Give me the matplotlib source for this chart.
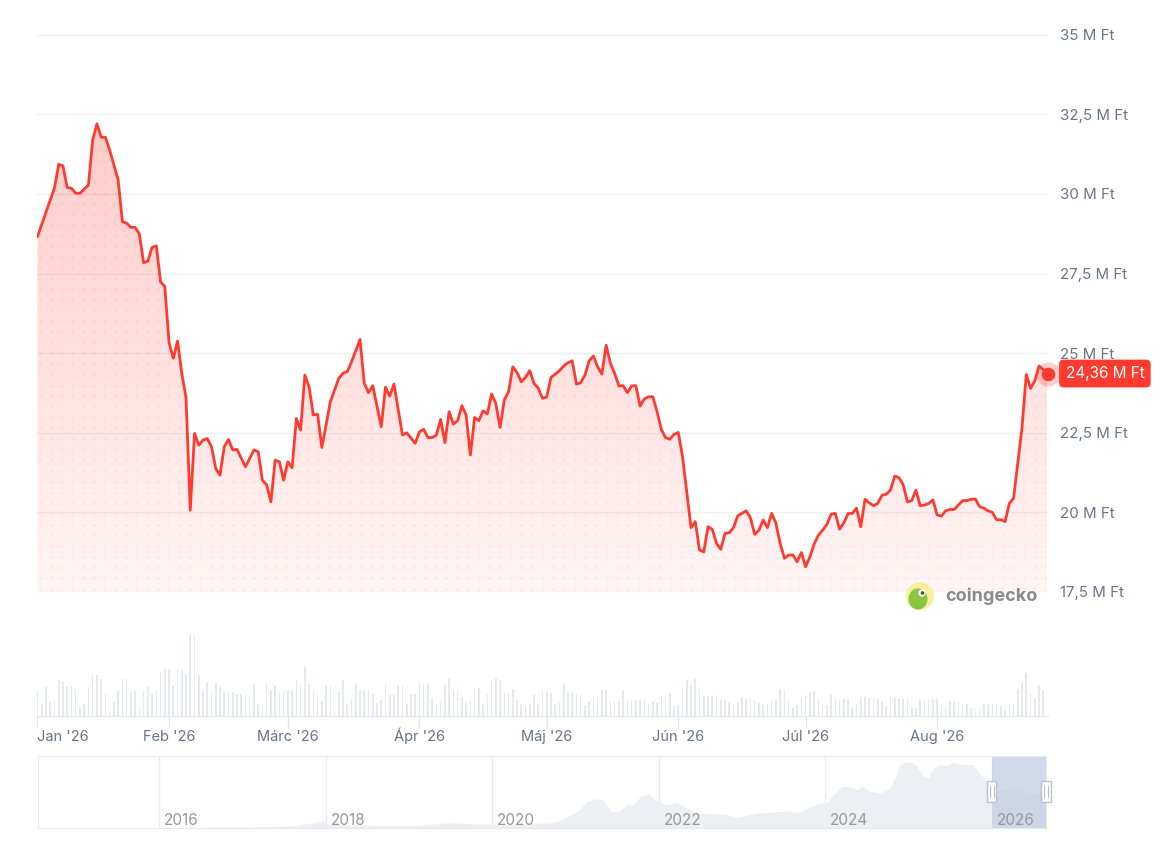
import numpy as np
import matplotlib.pyplot as plt
from matplotlib.patches import Polygon, Circle, Rectangle, Ellipse
from matplotlib.transforms import blended_transform_factory

plt.rcParams['font.family'] = ['Inter', 'DejaVu Sans']

# ---- data -------------------------------------------------------------
start_date = np.datetime64('2026-01-01')

# day offset from 2026-01-01 and BTC price in M Ft
price_day = [0, 4, 5, 6, 7, 8, 9, 10, 12, 13, 14, 15, 16, 17, 19, 20, 21, 22, 23, 24,
             25, 26, 27, 28, 29, 30, 31, 32, 33, 34, 35, 36, 37, 38, 39, 40, 41, 42, 43, 44,
             45, 46, 47, 49, 51, 52, 53, 54, 55, 56, 57, 58, 59, 60, 61, 62, 63, 64, 65, 66,
             67, 68, 69, 71, 72, 73, 74, 76, 77, 78, 79, 81, 82, 83, 84, 86, 87, 89, 90, 91,
             92, 93, 94, 95, 96, 97, 98, 99, 100, 101, 102, 103, 104, 105, 106, 107, 108, 109, 110, 111,
             112, 113, 114, 115, 116, 117, 118, 119, 120, 121, 122, 123, 124, 125, 126, 127, 128, 129, 130, 131,
             132, 133, 134, 135, 136, 137, 138, 139, 140, 141, 142, 143, 144, 145, 146, 147, 148, 149, 150, 151,
             152, 154, 155, 156, 157, 158, 159, 160, 161, 162, 163, 164, 165, 166, 167, 168, 169, 170, 171, 172,
             173, 174, 175, 176, 177, 178, 179, 180, 181, 182, 183, 184, 185, 186, 187, 188, 189, 190, 191, 192,
             193, 194, 195, 196, 197, 198, 199, 200, 201, 202, 203, 204, 205, 206, 207, 208, 209, 210, 211, 212,
             213, 214, 215, 216, 217, 218, 219, 220, 221, 222, 223, 224, 225, 226, 227, 228, 229, 230, 232, 233,
             234, 235, 236, 238]
price_mft = [28.66, 30.19, 30.93, 30.88, 30.20, 30.18, 30.02, 30.02, 30.28, 31.69, 32.20, 31.78, 31.78, 31.38, 30.44, 29.13, 29.08, 28.95, 28.95, 28.74,
             27.84, 27.89, 28.32, 28.37, 27.24, 27.09, 25.33, 24.84, 25.38, 24.37, 23.60, 20.07, 22.48, 22.11, 22.27, 22.32, 22.06, 21.38, 21.17, 22.06,
             22.29, 21.96, 21.98, 21.43, 21.96, 21.90, 21.01, 20.86, 20.33, 21.64, 21.59, 21.01, 21.59, 21.40, 22.95, 22.58, 24.31, 23.94, 23.06, 23.08,
             22.04, 22.74, 23.47, 24.21, 24.37, 24.42, 24.73, 25.43, 24.05, 23.76, 23.98, 22.69, 23.93, 23.65, 24.03, 22.43, 22.50, 22.17, 22.53, 22.61,
             22.35, 22.35, 22.43, 22.92, 22.19, 23.16, 22.77, 22.88, 23.35, 23.06, 21.80, 22.98, 22.88, 23.19, 23.09, 23.72, 23.42, 22.67, 23.53, 23.79,
             24.57, 24.39, 24.10, 24.24, 24.45, 24.05, 23.90, 23.58, 23.63, 24.24, 24.34, 24.45, 24.60, 24.70, 24.76, 24.03, 24.07, 24.31, 24.76, 24.91,
             24.57, 24.34, 25.25, 24.68, 24.37, 23.97, 23.98, 23.76, 23.97, 23.98, 23.34, 23.56, 23.63, 23.63, 23.16, 22.61, 22.34, 22.30, 22.45, 22.51,
             21.75, 19.52, 19.71, 18.82, 18.76, 19.55, 19.47, 19.03, 18.84, 19.34, 19.36, 19.52, 19.89, 19.97, 20.05, 19.83, 19.31, 19.44, 19.76, 19.52,
             19.97, 19.66, 19.03, 18.56, 18.66, 18.66, 18.45, 18.74, 18.29, 18.60, 19.00, 19.28, 19.44, 19.62, 19.94, 19.97, 19.47, 19.67, 19.96, 19.97,
             20.13, 19.55, 20.41, 20.30, 20.21, 20.28, 20.54, 20.57, 20.70, 21.14, 21.09, 20.86, 20.33, 20.37, 20.70, 20.21, 20.23, 20.28, 20.39, 19.92,
             19.88, 20.05, 20.09, 20.09, 20.23, 20.37, 20.37, 20.41, 20.42, 20.18, 20.13, 20.05, 20.00, 19.77, 19.77, 19.71, 20.28, 20.44, 22.67, 24.33,
             23.89, 24.13, 24.60, 24.36]

# daily trading volume, relative units (one bar per day from 2026-01-01)
volume_rel = [74, 37, 87, 42, 49, 107, 105, 87, 89, 77, 25, 37, 87, 124, 122, 110, 65, 10, 42, 75,
              110, 110, 72, 75, 25, 72, 87, 67, 79, 129, 142, 140, 90, 142, 137, 127, 247, 245, 124, 74,
              102, 75, 99, 87, 75, 72, 72, 65, 65, 62, 62, 95, 37, 37, 95, 77, 90, 74, 74, 79,
              77, 107, 92, 147, 95, 79, 57, 44, 90, 90, 10, 72, 107, 37, 47, 95, 79, 77, 74, 65,
              39, 49, 95, 62, 62, 90, 90, 37, 65, 65, 102, 95, 97, 55, 34, 45, 92, 114, 79, 79,
              57, 39, 47, 84, 84, 37, 65, 102, 115, 107, 69, 69, 82, 49, 37, 29, 37, 62, 37,
              77, 72, 69, 37, 42, 95, 72, 72, 67, 62, 32, 42, 52, 55, 77, 79, 42, 42, 45, 79,
              49, 47, 49, 47, 52, 37, 42, 39, 59, 59, 69, 29, 32, 87, 109, 92, 110, 82, 59, 59,
              59, 62, 47, 47, 42, 37, 39, 55, 52, 54, 47, 39, 32, 37, 47, 52, 80, 77, 47, 25,
              32, 55, 62, 72, 74, 47, 37, 32, 67, 55, 49, 52, 47, 25, 37, 57, 57, 55, 55, 52,
              42, 29, 57, 57, 52, 50, 47, 27, 25, 47, 47, 49, 50, 52, 32, 27, 45, 42, 42, 37,
              35, 25, 22, 22, 37, 37, 35, 35, 29, 19, 32, 37, 82, 102, 130, 67, 55, 94, 79]

month_starts = ['2026-01-01', '2026-02-01', '2026-03-01', '2026-04-01',
                '2026-05-01', '2026-06-01', '2026-07-01', '2026-08-01']
month_labels = ["Jan '26", "Feb '26", "Márc '26", "Ápr '26",
                "Máj '26", "Jún '26", "Júl '26", "Aug '26"]

price_ticks = [17.5, 20, 22.5, 25, 27.5, 30, 32.5, 35]
price_tick_labels = ['17,5 M Ft', '20 M Ft', '22,5 M Ft', '25 M Ft',
                     '27,5 M Ft', '30 M Ft', '32,5 M Ft', '35 M Ft']
last_price_label = '24,36 M Ft'

# navigator: full history (decimal year, M Ft)
nav_year = [2014.55, 2017.05, 2017.25, 2017.65, 2017.89, 2017.97, 2018.05, 2018.45, 2019.05, 2019.45,
            2019.85, 2020.25, 2020.69, 2020.78, 2020.98, 2021.04, 2021.14, 2021.24, 2021.32, 2021.38,
            2021.42, 2021.52, 2021.62, 2021.70, 2021.78, 2021.88, 2021.96, 2022.10, 2022.22, 2022.38,
            2022.46, 2022.78, 2022.94, 2023.18, 2023.54, 2023.70, 2023.90, 2024.02, 2024.10, 2024.20,
            2024.30, 2024.38, 2024.44, 2024.54, 2024.66, 2024.78, 2024.84, 2024.90, 2024.98, 2025.04,
            2025.10, 2025.18, 2025.24, 2025.30, 2025.38, 2025.46, 2025.54, 2025.62, 2025.78, 2025.86,
            2025.94, 2026.02, 2026.10, 2026.22, 2026.34, 2026.42, 2026.54, 2026.65]
nav_mft = [0.1, 0.5, 0.9, 1.6, 4.4, 5.1, 2.8, 2.1, 1.6, 3.7,
           2.8, 2.6, 3.7, 4.4, 10.3, 12.1, 18.4, 20.3, 19.6, 16.1,
           11.4, 11.4, 16.1, 16.1, 21.9, 23.6, 19.6, 16.1, 17.7, 12.6,
           10.3, 9.6, 7.5, 10.3, 11.9, 10.8, 16.6, 17.7, 23.1, 28.9,
           28.5, 26.6, 28.9, 25.4, 24.3, 27.8, 34.8, 44.1, 45.7, 45.7,
           42.9, 35.9, 34.8, 41.8, 44.1, 43.4, 45.7, 44.1, 44.1, 37.1,
           33.6, 28.9, 26.6, 27.1, 27.8, 23.8, 24.3, 24.3]
nav_year_ticks = [2016, 2018, 2020, 2022, 2024, 2026]

# ---- styling ------------------------------------------------------------
RED = '#ff3b30'
GRID = '#eef0f4'
LABEL = '#66748a'
W, H = 1171, 850


def px_axes(x0, y0, x1, y1):
    return fig.add_axes([x0 / W, 1 - y1 / H, (x1 - x0) / W, (y1 - y0) / H])


fig = plt.figure(figsize=(W / 100, H / 100), dpi=100)
fig.patch.set_facecolor('white')

last_day = price_day[-1]
days = np.array(price_day, dtype=float)
prices = np.array(price_mft)

# ---- main price chart ---------------------------------------------------
ax = px_axes(37.5, 34.7, 1047.5, 592)
ax.set_facecolor('none')
for s in ax.spines.values():
    s.set_visible(False)

# gradient area under the line
grad = np.zeros((256, 1, 4))
grad[..., 0] = 1.0
grad[..., 1] = 59 / 255
grad[..., 2] = 48 / 255
grad[..., 3] = np.linspace(0.30, 0.05, 256)[:, None]
img = ax.imshow(grad, extent=[0, last_day, 17.5, 35], aspect='auto',
                origin='upper', zorder=1, interpolation='bilinear')
verts = list(zip(days, prices)) + [(last_day, 17.5), (0, 17.5)]
area = Polygon(verts, closed=True, facecolor='none', edgecolor='none')
ax.add_patch(area)
img.set_clip_path(area)

# dotted texture inside the area
gx, gy = np.meshgrid(np.arange(0.6, last_day, 2.52), np.arange(17.6, 35, 0.336))
dots = ax.scatter(gx.ravel(), gy.ravel(), s=4, color=RED, alpha=0.07,
                  linewidths=0, zorder=1.5)
dots.set_clip_path(area)

ax.plot(days, prices, color=RED, lw=2.0, zorder=3, solid_joinstyle='round')

ax.scatter([last_day], [prices[-1]], s=300, color=RED, alpha=0.25,
           linewidths=0, zorder=4, clip_on=False)
ax.scatter([last_day], [prices[-1]], s=95, color=RED, linewidths=0,
           zorder=5, clip_on=False)

ax.set_xlim(0, last_day)
ax.set_ylim(17.5, 35)
ax.set_xticks([])
ax.yaxis.tick_right()
ax.set_yticks(price_ticks)
ax.set_yticklabels(price_tick_labels)
ax.tick_params(axis='y', length=0, pad=9, labelsize=10.8, labelcolor=LABEL)
for t in price_ticks:
    ax.axhline(t, color=GRID, lw=1, zorder=0)

ax.annotate(last_price_label, xy=(last_day, prices[-1]), xytext=(18, 0),
            textcoords='offset pixels', va='center', ha='left',
            color='white', fontsize=11, zorder=10, annotation_clip=False,
            bbox=dict(boxstyle='round,pad=0.42,rounding_size=0.3',
                      fc=RED, ec='none'))

# ---- volume bars --------------------------------------------------------
axv = px_axes(37.5, 630, 1047.5, 716)
axv.set_facecolor('none')
axv.bar(np.arange(len(volume_rel)), volume_rel, width=0.38, color='#e6e9ef',
        linewidth=0)
axv.set_xlim(0, last_day)
axv.set_ylim(0, 258)
for k, s in axv.spines.items():
    s.set_visible(k == 'bottom')
axv.spines['bottom'].set_color('#e3e7ec')
axv.set_yticks([])
month_pos = [(np.datetime64(m) - start_date).astype(int) for m in month_starts]
axv.set_xticks(month_pos)
axv.set_xticklabels(month_labels)
axv.tick_params(axis='x', length=8.6, width=1, color='#e3e7ec', pad=9.4,
                labelsize=10.5, labelcolor=LABEL)
for lab in axv.get_xticklabels():
    lab.set_va('baseline')
axv.get_xticklabels()[0].set_ha('left')

# ---- navigator ----------------------------------------------------------
axn = px_axes(38, 756, 1046, 828)
axn.fill_between(nav_year, nav_mft, color='#eceff3', lw=0, zorder=1)
nav_x0 = 2016 + (38 - 159) / 83.25
nav_x1 = 2026 + last_day / 365
axn.set_xlim(nav_x0, nav_x1)
axn.set_ylim(0, 50)
axn.set_xticks([])
axn.set_yticks([])
for s in axn.spines.values():
    s.set_color('#e6e9ee')
for yr in nav_year_ticks:
    axn.axvline(yr, color='#e8ebef', lw=1, zorder=0.5)
    axn.annotate(str(yr), xy=(yr, 0), xytext=(5, 3), textcoords='offset pixels',
                 ha='left', va='baseline', fontsize=11, color='#999999', zorder=3)

sel0 = 2026 + 0 / 365
axn.axvspan(sel0, nav_x1, color='#c4cde4', alpha=0.75, lw=0, zorder=2)
bt = blended_transform_factory(axn.transData, axn.transAxes)
hw = 9 / 83.25
for hx in (sel0, nav_x1):
    axn.add_patch(Rectangle((hx - hw / 2, 0.36), hw, 0.29, transform=bt,
                            fc='white', ec='#b9c1cd', lw=1, zorder=4,
                            clip_on=False))
    for dx in (-0.22, 0.22):
        axn.plot([hx + dx * hw, hx + dx * hw], [0.43, 0.58], transform=bt,
                 color='#b9c1cd', lw=0.8, zorder=5, clip_on=False)

# ---- coingecko mark -----------------------------------------------------
axo = fig.add_axes([0, 0, 1, 1])
axo.set_xlim(0, W)
axo.set_ylim(H, 0)
axo.axis('off')
axo.add_patch(Circle((920, 596), 14, fc='#f6eea2', ec='none'))
axo.add_patch(Ellipse((918, 599), 19, 21, fc='#8cc63f', ec='none'))
axo.add_patch(Circle((922, 593), 3.6, fc='white', ec='none'))
axo.add_patch(Circle((922.5, 593), 1.8, fc='#4a4a4a', ec='none'))
axo.text(945, 596, 'coingecko', fontsize=13, fontweight='bold',
         color='#8b8b8b', va='center', ha='left')

fig.savefig('out.png', dpi=100)
